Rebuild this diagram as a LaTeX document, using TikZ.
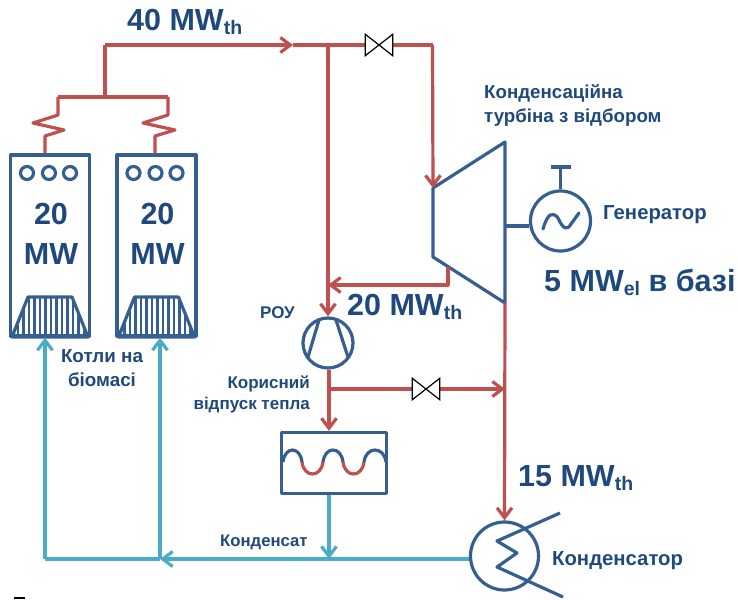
\documentclass[tikz,border=0pt]{standalone}
\usepackage{fontspec}
\setmainfont{Liberation Sans}
\usetikzlibrary{arrows.meta}
\definecolor{txtblue}{HTML}{1F497D}
\definecolor{shapeblue}{HTML}{365F91}
\definecolor{pipered}{HTML}{C0504D}
\definecolor{pipecyan}{HTML}{4BACC6}
\newcommand{\subtxt}[1]{\raisebox{-4pt}{\fontsize{19.5}{19.5}\selectfont #1}}
\tikzset{
  redpipe/.style={draw=pipered, line width=3.2pt, line join=round},
  cyanpipe/.style={draw=pipecyan, line width=3.2pt, line join=round},
  blueline/.style={draw=shapeblue, line width=3.2pt, line join=round},
  tip/.style={-{Straight Barb[length=10pt,width=15pt,line width=3.2pt]}},
  boiler/.style={blueline, rectangle, minimum width=79pt, minimum height=181pt, inner sep=0pt},
  dotport/.style={blueline, circle, minimum size=13pt, inner sep=0pt},
  roundpart/.style={blueline, circle, fill=white, inner sep=0pt},
  valve/.style={rectangle, fill=white, minimum width=27pt, minimum height=21pt, inner sep=0pt},
  bigtxt/.style={text=txtblue, anchor=base west, inner sep=0pt, font=\bfseries\fontsize{30.5}{36}\selectfont},
  midtxt/.style={text=txtblue, anchor=base west, inner sep=0pt, font=\bfseries\fontsize{20.3}{24}\selectfont},
  smalltxt/.style={text=txtblue, inner sep=0pt, font=\bfseries\fontsize{17}{21}\selectfont}
}
\begin{document}
\begin{tikzpicture}[x=1pt, y=-1pt]
  \useasboundingbox (0,0) rectangle (738,599);

  % boilers
  \foreach \name/\bx in {boilerA/0, boilerB/106.5} {
    \begin{scope}[xshift=\bx pt]
      \begin{scope}
        \clip (28,297) -- (72,297) -- (90,337) -- (10,337) -- cycle;
        \foreach \hx in {12.5,18,...,88}
          \draw[shapeblue, line width=2.4pt] (\hx,295) -- (\hx,339);
      \end{scope}
      \draw[blueline] (28,297) -- (72,297) -- (88,337) -- (12,337) -- cycle;
      \node[boiler] (\name) at (50,245.5) {};
      \node[dotport] (\name-d1) at (27,173) {};
      \node[dotport] (\name-d2) at (49,173) {};
      \node[dotport] (\name-d3) at (70,173) {};
      \node[text=txtblue, align=center, inner sep=0pt, font=\bfseries\fontsize{30.5}{40}\selectfont] (\name-t) at (51,234) {20\\MW};
    \end{scope}
  }

  % parts
  \draw[blueline] (433,188) coordinate (inA) -- (505,142) coordinate (outA) -- (505,303) coordinate (outB) -- (433,257) coordinate (inB) -- cycle;
  \node[roundpart, minimum size=60pt] (gen) at (560.5,221) {};
  \node[roundpart, minimum size=50pt] (rou) at (328,343) {};
  \node[roundpart, minimum size=68pt] (cond) at (504.5,556) {};
  \node[blueline, rectangle, minimum width=105pt, minimum height=61pt, inner sep=0pt] (heat) at (334,463) {};

  % steam
  \coordinate (top) at (105,45);
  \coordinate (mark) at (293,45);
  \coordinate (split) at (328,45);
  \coordinate (turnA) at (432.5,45);
  \coordinate (hdr) at (105,97);
  \coordinate (hdrL) at (58,97);
  \coordinate (hdrR) at (168,97);
  \coordinate (ext) at (448,267);
  \coordinate (extB) at (448,285);
  \coordinate (extC) at (328,285);
  \coordinate (heatT) at (329,389);
  \coordinate (heatR) at (505,389);
  \draw[redpipe] (hdrL) -- (hdrR);
  \draw[redpipe] (hdr) -- (top);
  \draw[redpipe, tip] (top) -- (mark);
  \draw[redpipe] (mark) -- (turnA);
  \draw[redpipe, tip] (turnA) -- (inA);
  \draw[redpipe, tip] (split) -- (rou.north);
  \draw[redpipe, tip] (ext) -- (extB) -- (extC);
  \draw[redpipe] (hdrL) -- ++(0,18) -- ++(-25,8) -- ++(31,7) -- ++(-19,6) -- (boilerA.north -| 45,0);
  \draw[redpipe] (hdrR) -- ++(0,18) -- ++(-25,8) -- ++(32,7) -- ++(-20,6) -- (boilerB.north -| 155,0);
  \draw[redpipe] (rou.south -| heatT) -- (heatT);
  \draw[redpipe, tip] (heatT) -- (heat.north -| heatT);
  \draw[redpipe, tip] (heatT) -- (heatR);
  \draw[redpipe, tip] (outB) -- (cond.north);

  \node[valve] (valveA) at (379,45) {};
  \node[valve] (valveB) at (426,389) {};
  \foreach \v in {valveA, valveB}
    \draw[black, line width=1.2pt, line join=miter] (\v.south west) -- (\v.north east) -- (\v.south east) -- (\v.north west) -- cycle;

  % condensate
  \coordinate (retA) at (45,559);
  \coordinate (retB) at (160,559);
  \coordinate (retM) at (329,559);
  \draw[cyanpipe, tip] (cond.west |- retM) -- (retB);
  \draw[cyanpipe] (retB) -- (retA);
  \draw[cyanpipe, tip] (retA) -- (boilerA.south -| retA);
  \draw[cyanpipe, tip] (retB) -- (boilerB.south -| retB);
  \draw[cyanpipe, tip] (heat.south -| retM) -- (retM);

  % symbols
  \draw[blueline] (outA |- 0,226) -- (gen.west |- 0,226);
  \draw[blueline] (gen.north) -- (560.5,167);
  \draw[blueline] (551,167) -- (571,167);
  \draw[blueline, line cap=round] (543,229) .. controls (548,212) and (553,212) .. (558,218) .. controls (563,229) and (567,231) .. (571,224) -- (579,213);
  \draw[blueline] (319,320) -- (308,357);
  \draw[blueline] (336,320) -- (348,357);
  \draw[blueline] (560,513) -- (497,541) -- (517,553) -- (497,567) -- (563,597);
  \draw[shapeblue, line width=3.2pt] (283,462) .. controls (285,446) and (300,446) .. (302,462);
  \draw[pipered, line width=3.2pt] (302,462) .. controls (304,478) and (321,478) .. (323,462);
  \draw[shapeblue, line width=3.2pt] (323,462) .. controls (325,446) and (341,446) .. (343,462);
  \draw[pipered, line width=3.2pt] (343,462) .. controls (345,478) and (362,478) .. (364,462);
  \draw[shapeblue, line width=3.2pt] (364,462) .. controls (366,446) and (384,446) .. (386,462);
  \draw[black, line width=2pt] (14,598) -- (25,598);

  % labels
  \node[bigtxt] (lblA) at (127,31) {40 MW\subtxt{th}};
  \node[bigtxt] (lblB) at (347,315) {20 MW\subtxt{th}};
  \node[bigtxt] (lblC) at (518,486) {15 MW\subtxt{th}};
  \node[bigtxt] (lblD) at (544,291) {5 MW\subtxt{el} в базі};
  \node[midtxt] (lblGen) at (603,219) {Генератор};
  \node[midtxt] (lblCond) at (552,565) {Конденсатор};
  \node[smalltxt, font=\bfseries\fontsize{18.7}{24}\selectfont, align=left, anchor=north west] (lblTurb) at (484,84) {Конденсаційна\\турбіна з відбором};
  \node[smalltxt, font=\bfseries\fontsize{18.8}{24}\selectfont, align=center] (lblBoil) at (102,368) {Котли на\\біомасі};
  \node[smalltxt, anchor=base west] (lblRou) at (260,318) {РОУ};
  \node[smalltxt, align=right, anchor=north east] (lblUse) at (310,376) {Корисний\\відпуск тепла};
  \node[smalltxt, anchor=base west, font=\bfseries\fontsize{16.7}{20}\selectfont] (lblKond) at (220,546) {Конденсат};
\end{tikzpicture}
\end{document}
